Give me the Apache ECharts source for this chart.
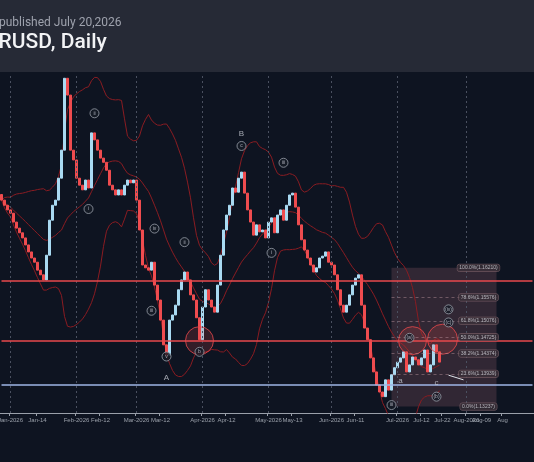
<!DOCTYPE html>
<html><head><meta charset="utf-8">
<script src="https://cdn.jsdelivr.net/npm/echarts@6/dist/echarts.min.js"></script>
<style>html,body{margin:0;padding:0;background:#0e1421;}#c{width:534px;height:462px;}</style>
</head><body><div id="c"></div>
<script>
const startDate = '2025-12-29';
const totalBars = 178;
const closes = [1.1766,1.1755,1.1745,1.1738,1.1719,1.1706,1.1696,1.1685,1.1670,1.1655,
1.1642,1.1633,1.1616,1.1606,1.1595,1.1648,1.1723,1.1755,1.1766,1.1813,
1.1873,1.2027,1.1991,1.1873,1.1852,1.1813,1.1798,1.1788,1.1809,1.1792,
1.1910,1.1895,1.1873,1.1856,1.1847,1.1830,1.1798,1.1788,1.1777,1.1788,
1.1777,1.1798,1.1809,1.1803,1.1809,1.1766,1.1702,1.1627,1.1621,1.1616,
1.1633,1.1584,1.1552,1.1509,1.1456,1.1434,1.1509,1.1520,1.1541,1.1574,
1.1595,1.1612,1.1595,1.1563,1.1552,1.1514,1.1467,1.1537,1.1574,1.1552,
1.1537,1.1526,1.1584,1.1648,1.1702,1.1734,1.1755,1.1792,1.1783,1.1813,
1.1826,1.1781,1.1745,1.1719,1.1691,1.1713,1.1698,1.1702,1.1685,1.1719,
1.1728,1.1696,1.1734,1.1745,1.1723,1.1755,1.1777,1.1781,1.1751,1.1713,
1.1681,1.1659,1.1642,1.1627,1.1612,1.1621,1.1642,1.1646,1.1655,1.1633,
1.1627,1.1606,1.1574,1.1541,1.1526,1.1541,1.1563,1.1584,1.1599,1.1606,
1.1541,1.1492,1.1467,1.1428,1.1398,1.1370,1.1355,1.1345,1.1381,1.1359,
1.1392,1.1407,1.1419,1.1428,1.1441,1.1398,1.1413,1.1430,1.1424,1.1413,
1.1428,1.1445,1.1398,1.1413,1.1456,1.1441,1.1419];
const firstOpen = 1.1778;
const hLinesRed = [1.1593, 1.1464];
const hLineBlue = 1.1370;
const fibLevels = [1.16210,1.15576,1.15076,1.14725,1.14374,1.13939,1.13237];
const fibNames = ['100.0%','78.6%','61.8%','50.0%','38.2%','23.6%','0.0%'];
const tickLabels = [['2026-01-01','Jan-2026'],['2026-01-14','Jan-14'],['2026-02-01','Feb-2026'],['2026-02-12','Feb-12'],
['2026-03-01','Mar-2026'],['2026-03-12','Mar-12'],['2026-04-01','Apr-2026'],['2026-04-12','Apr-12'],
['2026-05-01','May-2026'],['2026-05-13','May-13'],['2026-06-01','Jun-2026'],['2026-06-11','Jun-11'],
['2026-07-01','Jul-2026'],['2026-07-12','Jul-12'],['2026-07-22','Jul-22'],['2026-08-01','Aug-2026'],['2026-08-09','Aug-09'],['2026-08-19','Aug']];
const monthStarts = ['Jan-2026','Feb-2026','Mar-2026','Apr-2026','May-2026','Jun-2026','Jul-2026','Aug-2026'];
const waveLabels = [[31,1.1952,'ii'],[29,1.1747,'i'],[51,1.1705,'iv'],[50,1.1529,'iii'],[55,1.1431,'v'],[61,1.1676,'ii'],[66,1.1441,'b'],[80,1.1882,'c'],[94,1.1846,'iii'],[90,1.1653,'i'],[130,1.1327,'iii'],[136,1.1471,'(a)'],[149,1.1532,'(iv)'],[149,1.1504,'(c)'],[145,1.1345,'(b)']];
const plainLabels = [[80,1.1907,'B'],[55,1.1386,'A'],[145,1.1375,'c'],[133,1.1379,'a']];
const circles = [[66,1.1465,28],[137,1.1465,28],[147,1.1468,30]];

const cats=[]; {let d=new Date(startDate+'T00:00:00Z'); while(cats.length<totalBars){const w=d.getUTCDay(); if(w!==0&&w!==6) cats.push(d.toISOString().slice(0,10)); d.setUTCDate(d.getUTCDate()+1);} }
const labelAt={}; tickLabels.forEach(([ds,t])=>{const i=cats.findIndex(c=>c>=ds); if(i>=0) labelAt[i]=t;});
const candle = closes.map((c,i)=>{const o=i?closes[i-1]:firstOpen; return [o,c,Math.min(o,c),Math.max(o,c)];});
const mid=[],up=[],lo=[];
closes.forEach((c,i)=>{const s=closes.slice(Math.max(0,i-19),i+1);const m=s.reduce((a,b)=>a+b,0)/s.length;const sd=Math.sqrt(s.reduce((a,b)=>a+(b-m)*(b-m),0)/s.length);mid.push(m);up.push(m+2*sd);lo.push(m-2*sd);});
const msIdx = Object.keys(labelAt).filter(k=>monthStarts.includes(labelAt[k])).map(Number);
const last = totalBars-1;
const hl = (v,color)=>[{coord:[0,v],lineStyle:{color:color,type:'solid',width:1.5}},{coord:[last,v]}];

const chart=echarts.init(document.getElementById('c'));
chart.setOption({
 backgroundColor:'#0e1421', animation:false,
 graphic:[
  {type:'rect',shape:{x:0,y:0,width:534,height:72},style:{fill:'#262a36'}},
  {type:'text',left:-1,top:17,style:{text:'published July 20,2026',fill:'#9ea2ad',font:'12px Roboto'}},
  {type:'text',left:-27,top:32,style:{text:'EURUSD, Daily',fill:'#f2f3f5',font:'500 21px Roboto'}}
 ],
 grid:{left:0,right:0,top:75,bottom:49,outerBoundsMode:'none',containLabel:false},
 xAxis:{type:'category',data:cats,boundaryGap:true,
  axisLine:{lineStyle:{color:'#9aa0aa',width:1}},
  axisTick:{show:true,interval:(i)=>labelAt[i]!==undefined,lineStyle:{color:'#9aa0aa'},length:3},
  axisLabel:{interval:(i)=>labelAt[i]!==undefined,formatter:(v,i)=>labelAt[i]||'',color:'#9aa0aa',fontSize:6,margin:4,fontFamily:'Liberation Sans',hideOverlap:false},
  splitLine:{show:false}},
 yAxis:{type:'value',min:1.1310,max:1.2034,show:false,splitLine:{show:false}},
 series:[
  {type:'line',data:up,symbol:'none',lineStyle:{color:'#8a1c22',width:1},silent:true,z:1},
  {type:'line',data:mid,symbol:'none',lineStyle:{color:'#8a1c22',width:1},silent:true,z:1},
  {type:'line',data:lo,symbol:'none',lineStyle:{color:'#8a1c22',width:1},silent:true,z:1},
  {type:'candlestick',data:candle,barWidth:2,z:3,
   itemStyle:{color:'#a9daf2',color0:'#ef4c4f',borderColor:'#a9daf2',borderColor0:'#ef4c4f',borderWidth:1},
   markArea:{silent:true,itemStyle:{color:'rgba(125,80,92,0.32)'},data:[[{coord:[130,fibLevels[0]]},{coord:[165,fibLevels[6]]}]]},
   markLine:{silent:true,symbol:'none',label:{show:false},data:[
     ...msIdx.map(i=>[{coord:[i,1.1310],lineStyle:{color:'#4a5060',type:[2,3],width:1}},{coord:[i,1.2034]}]),
     ...hLinesRed.map(v=>hl(v,'#e8484c')),
     hl(hLineBlue,'#9fb6e6'),
     ...fibLevels.slice(1,6).map(v=>[{coord:[130,v],lineStyle:{color:'rgba(190,150,160,0.45)',type:[3,3],width:1}},{coord:[165,v]}]),
     [{coord:[149,1.1391],lineStyle:{color:'#dfe3ea',type:'solid',width:1}},{coord:[154,1.1381]}]
   ]}},
  {type:'scatter',data:circles.map(c=>[c[0],c[1],c[2]]),symbolSize:d=>d[2],z:4,silent:true,
   itemStyle:{color:'rgba(232,72,76,0.22)',borderColor:'#e8484c',borderWidth:1}},
  {type:'scatter',data:waveLabels.map(w=>({value:[w[0],w[1]],name:w[2]})),symbolSize:9,z:5,silent:true,
   itemStyle:{color:'#161b27',borderColor:'#9aa0aa',borderWidth:1},
   label:{show:true,position:'inside',formatter:p=>p.name,color:'#c8ccd4',fontSize:5}},
  {type:'scatter',data:plainLabels.map(w=>({value:[w[0],w[1]],name:w[2]})),symbolSize:0,z:5,silent:true,
   label:{show:true,position:'inside',formatter:p=>p.name,color:'#c8ccd4',fontSize:8}},
  {type:'scatter',data:fibLevels.map((v,i)=>({value:[159,v],name:fibNames[i]+'('+v.toFixed(5)+')'})),symbolSize:0,z:5,silent:true,
   label:{show:true,position:'inside',formatter:p=>p.name,color:'#d4d6dc',fontSize:5,backgroundColor:'#3a2f38',borderColor:'#8a6a72',borderWidth:0.5,borderRadius:2,padding:[1,2]}}
 ]
});
</script></body></html>
